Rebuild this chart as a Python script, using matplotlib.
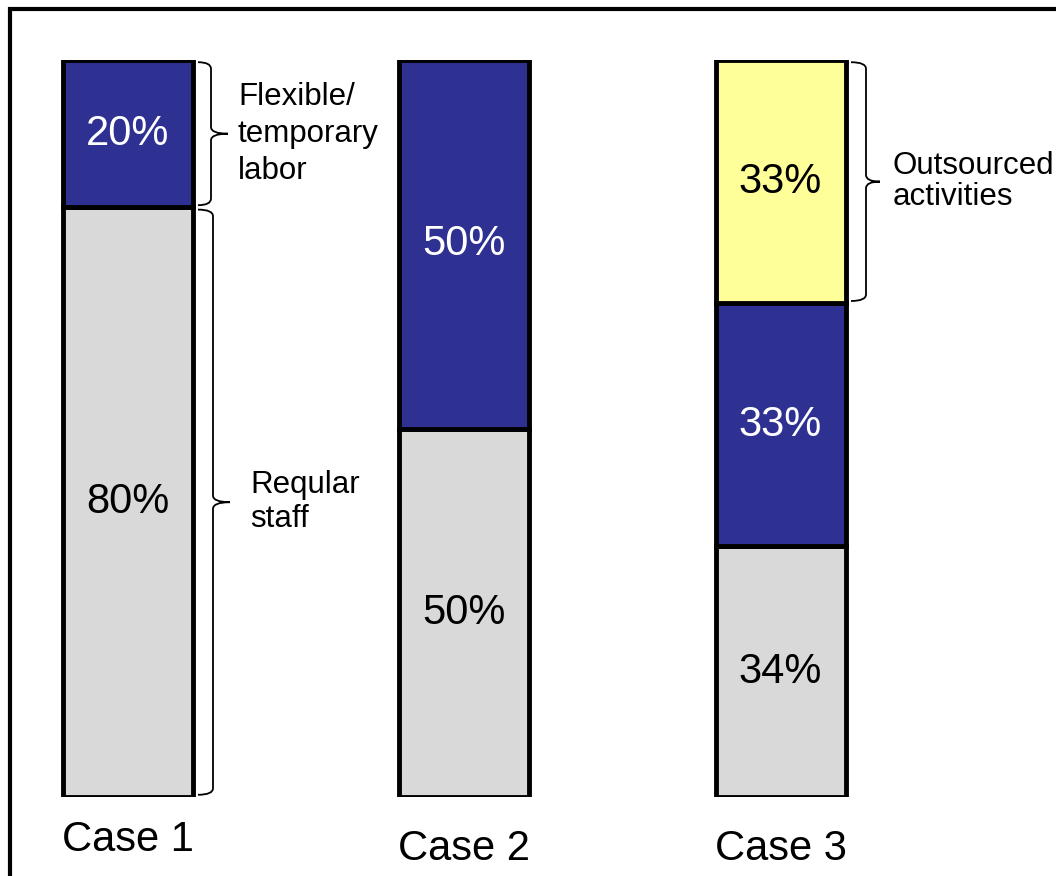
import matplotlib.pyplot as plt
import matplotlib.patheffects as pe
from matplotlib.patches import Rectangle, PathPatch
from matplotlib.path import Path

plt.rcParams["font.family"] = ["Liberation Sans", "DejaVu Sans"]

cases = ["Case 1", "Case 2", "Case 3"]
regular = [80, 50, 34]
flexible = [20, 50, 33]
outsourced = [0, 0, 33]

GREY = "#d9d9d9"
BLUE = "#2e3192"
YELLOW = "#ffff99"

fig = plt.figure(figsize=(10.56, 8.76), dpi=100)
ax = fig.add_axes([0, 79 / 876, 1, 737 / 876])
ax.set_xlim(0, 1056)
ax.set_ylim(0, 100)
ax.axis("off")

# outer frame, runs off the right and bottom edges
fig.patches.append(Rectangle((10 / 1056, -0.05), 1.2, 1.05 - 9 / 876,
                             transform=fig.transFigure, fill=False,
                             edgecolor="black", linewidth=3))

xpos = [128, 463.5, 780.5]
width = 130
shadow = [pe.SimplePatchShadow(offset=(1.5, -1.5), shadow_rgbFace="black", alpha=1),
          pe.Normal()]

bars_r = ax.bar(xpos, regular, width, color=GREY, edgecolor="black", linewidth=3.5)
bars_f = ax.bar(xpos, flexible, width, bottom=regular, color=BLUE,
                edgecolor="black", linewidth=3.5)
top_base = [r + f for r, f in zip(regular, flexible)]
bars_o = []
for x, b, h in zip(xpos, top_base, outsourced):
    if h > 0:
        bars_o += list(ax.bar(x, h, width, bottom=b, color=YELLOW,
                              edgecolor="black", linewidth=3.5))
for p in list(bars_r) + list(bars_f) + bars_o:
    p.set_path_effects(shadow)

# value labels inside each segment
for x, r, f, o in zip(xpos, regular, flexible, outsourced):
    ax.text(x, r / 2, f"{r}%", ha="center", va="center", fontsize=30, color="black")
    ax.text(x, r + f / 2, f"{f}%", ha="center", va="center", fontsize=30, color="white")
    if o > 0:
        ax.text(x, r + f + o / 2, f"{o}%", ha="center", va="center",
                fontsize=30, color="black")

case_y = [-5.8, -7.0, -7.0]
for x, name, y in zip(xpos, cases, case_y):
    ax.text(x, y, name, ha="center", va="center", fontsize=30, clip_on=False)


def brace(xs, xv, xt, y0, y1, r=0.9):
    ym = (y0 + y1) / 2
    verts, codes = [], []
    for ye, sgn in ((y1, -1), (y0, 1)):
        verts += [(xs, ye), (xv, ye), (xv, ye + sgn * r),
                  (xv, ym - sgn * r), (xv, ym), (xt, ym)]
        codes += [Path.MOVETO, Path.CURVE3, Path.CURVE3,
                  Path.LINETO, Path.CURVE3, Path.CURVE3]
    ax.add_patch(PathPatch(Path(verts, codes), fill=False,
                           edgecolor="black", linewidth=1.3))
    return xt, ym


# Case 1 braces
tx, ty = brace(198, 211, 228, regular[0] + 0.3, 99.7)
ax.text(tx + 10, ty, "Flexible/\ntemporary\nlabor", ha="left", va="center",
        fontsize=22.5, linespacing=1.3)
tx, ty = brace(198, 213, 230, 0.3, regular[0] - 0.3)
ax.text(tx + 20, ty, "Reqular\nstaff", ha="left", va="center",
        fontsize=22.5, linespacing=1.15)

# Case 3 brace
tx, ty = brace(851, 866, 880, top_base[2] + 0.3, 99.7)
ax.text(tx + 13, ty, "Outsourced\nactivities", ha="left", va="center",
        fontsize=22.5, linespacing=1.05)

fig.savefig("out.png", dpi=100)
